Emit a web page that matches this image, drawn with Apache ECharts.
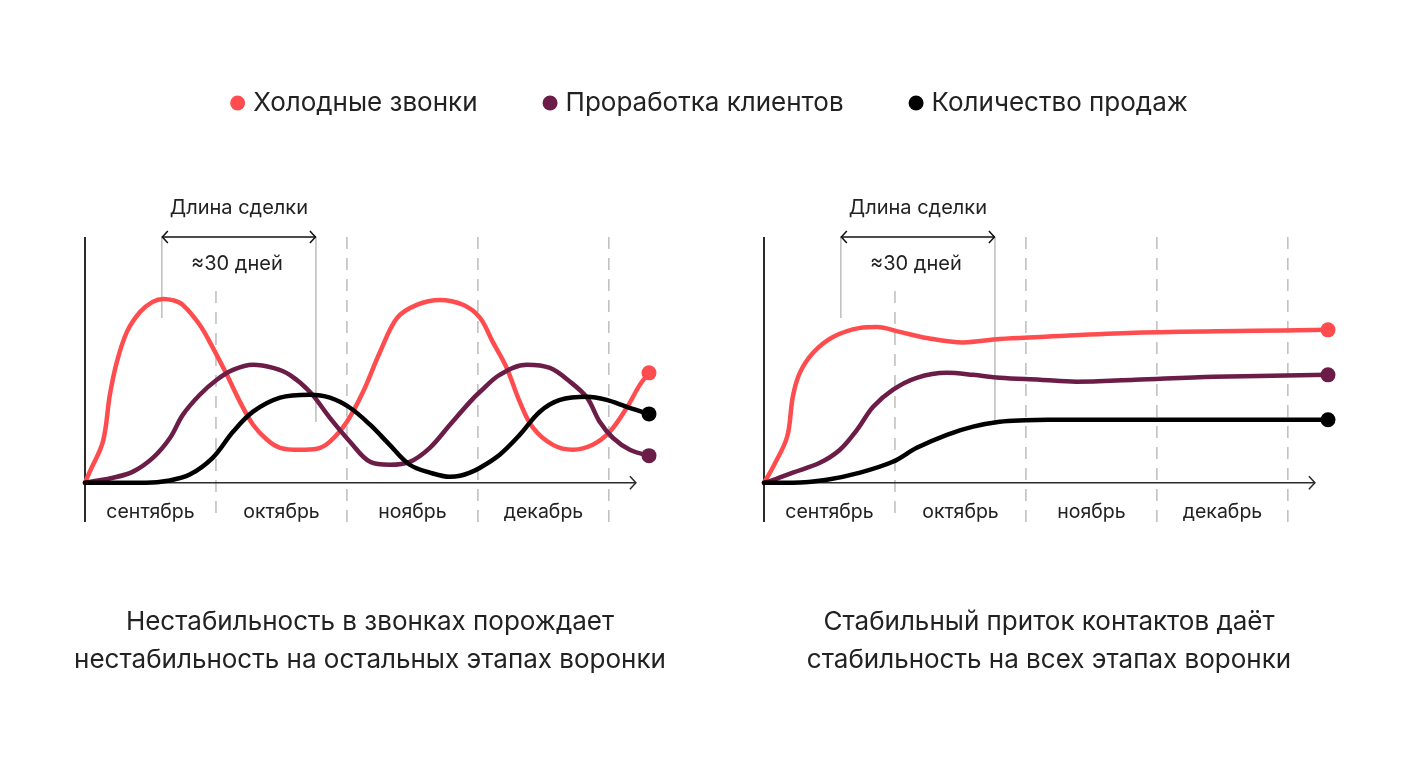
<!DOCTYPE html>
<html>
<head>
<meta charset="utf-8">
<script src="https://cdn.jsdelivr.net/npm/echarts@6/dist/echarts.min.js"></script>
<style>
  html, body { margin: 0; padding: 0; background: #ffffff; }
  #chart { width: 1418px; height: 760px; }
</style>
</head>
<body>
<div id="chart"></div>
<script>
// ---------- data ----------
const seriesNames = ['Холодные звонки', 'Проработка клиентов', 'Количество продаж'];
const months = ['сентябрь', 'октябрь', 'ноябрь', 'декабрь'];
const monthBounds = [30, 60, 90, 120];          // days
const dealStart = 17.6, dealEnd = 52.9;          // days
const dealTitle = 'Длина сделки';
const dealLength = '≈30 дней';
const captionLeft = 'Нестабильность в звонках порождает\nнестабильность на остальных этапах воронки';
const captionRight = 'Стабильный приток контактов даёт\nстабильность на всех этапах воронки';

// left panel: unstable
const coldCallsUnstable = [[0,0],[1.1,4.5],[4.1,16.7],[5.7,35.8],[7.3,49.2],[9.6,61.4],[12.6,69.5],[15.5,73.6],[17.9,74.8],[20.3,74.2],[22.4,72.4],[26.3,64.2],[29.3,54.9],[32.5,43.9],[35.5,32.9],[38.5,23.6],[41.7,17.5],[44.7,14.2],[49.2,13.4],[53.1,13.8],[56.1,16.7],[60.0,24.8],[63.7,37.0],[67.6,53.3],[71.5,67.1],[76.0,72.4],[81.3,74.4],[86.6,72.4],[90.5,67.1],[93.4,57.3],[96.6,46.7],[99.6,32.9],[102.6,22.4],[107.2,15.4],[111.8,13.4],[116.3,15.4],[120.2,20.7],[124.1,30.5],[127.1,39.8],[129.2,44.7]];
const clientWorkUnstable = [[0,0],[6.4,2.0],[11.0,4.5],[15.6,10.2],[19.5,18.3],[22.4,27.6],[26.3,35.8],[30.2,41.9],[33.9,45.9],[38.5,48.0],[43.1,46.7],[46.9,43.9],[51.5,37.0],[56.1,26.4],[60.7,16.7],[65.3,8.5],[69.8,7.3],[74.4,8.5],[79.0,14.2],[83.6,23.6],[88.2,32.9],[90.5,37.0],[95.0,43.9],[101.2,48.0],[106.5,46.7],[111.1,41.1],[115.0,34.6],[117.9,24.8],[120.9,18.3],[124.8,13.4],[129.2,11.0]];
const salesUnstable = [[0,0],[14,0],[19,0.8],[24.0,3.3],[29.3,10.2],[33.9,20.7],[38.5,28.9],[44.7,34.6],[51.5,35.8],[56.1,34.6],[60.7,30.5],[65.3,23.6],[69.8,15.4],[74.4,7.3],[79.0,4.1],[83.6,2.4],[85.9,2.8],[88.2,4.1],[90.5,6.1],[95.0,11.4],[99.6,19.5],[104.2,28.9],[108.8,33.7],[115.0,35.0],[119.5,33.7],[124.1,30.9],[129.2,28.0]];

// right panel: stable
const coldCallsStable = [[0,0],[2.1,6.5],[5.3,18.7],[6.6,35.0],[8.2,44.7],[11.2,52.8],[15.8,59.3],[22.0,63.0],[25.9,63.4],[31.1,61.4],[37.3,58.9],[45.6,57.1],[54.0,58.5],[63.2,59.3],[85.0,61.0],[112.2,61.8],[129.2,62.2]];
const clientWorkStable = [[0,0],[1.4,0.6],[6.6,4.1],[12.8,8.1],[17.4,13.4],[21.3,21.5],[25.0,30.9],[29.5,37.8],[35.0,42.7],[41.9,44.7],[47.9,43.9],[54.0,42.7],[63.2,41.9],[71.5,41.1],[85.0,41.9],[103.1,43.1],[129.2,43.9]];
const salesStable = [[0,0],[6.6,0],[14.4,1.2],[22.0,4.1],[29.5,8.5],[35.0,14.2],[41.9,19.5],[47.9,22.8],[54.0,24.8],[59.8,25.4],[65.0,25.6],[129.2,25.6]];

// ---------- styles ----------
const colors = ['#FF4D4F', '#6B1C47', '#000000'];
const FONT = 'Inter, "Noto Sans", sans-serif';
const TEXT = '#222222';
const X_MAX = 129.2, Y_MIN = -16, Y_MAX = 100;

const chart = echarts.init(document.getElementById('chart'), null, { renderer: 'canvas' });

function lineSeries(name, data, idx, color) {
  return {
    name: name, type: 'line', xAxisIndex: idx, yAxisIndex: idx, data: data,
    smooth: 0.35, clip: false,
    showSymbol: true, showAllSymbol: true, symbol: 'circle',
    symbolSize: function (v, p) { return p.dataIndex === data.length - 1 ? 15 : 0; },
    lineStyle: { width: 4.5, color: color, cap: 'round', join: 'round' },
    itemStyle: { color: color },
    emphasis: { disabled: true }, z: 3
  };
}

const monthAxis = (gi) => ({
  type: 'category', gridIndex: gi, data: months, boundaryGap: true,
  axisLine: { show: false }, axisTick: { show: false }, splitLine: { show: false },
  axisLabel: { margin: 19, fontSize: 19.5, color: TEXT, fontFamily: FONT }
});
const valueX = (gi) => ({ type: 'value', gridIndex: gi, min: 0, max: X_MAX, show: false });
const valueY = (gi) => ({ type: 'value', gridIndex: gi, min: Y_MIN, max: Y_MAX, show: false });

chart.setOption({
  animation: false,
  backgroundColor: '#ffffff',
  textStyle: { fontFamily: FONT },
  legend: {
    data: seriesNames, top: 85, left: 'center', itemGap: 65,
    icon: 'circle', itemWidth: 15, itemHeight: 15,
    textStyle: { fontSize: 26, color: TEXT, fontFamily: FONT, padding: [0, 0, 0, 3] },
    selectedMode: false
  },
  grid: [
    { left: 85, top: 237, width: 564, height: 285 },
    { left: 764, top: 237, width: 564, height: 285 },
    { left: 85, top: 237, width: 524, height: 246 },
    { left: 764, top: 237, width: 524, height: 246 }
  ],
  xAxis: [valueX(0), valueX(1), monthAxis(2), monthAxis(3)],
  yAxis: [valueY(0), valueY(1), { type: 'value', gridIndex: 2, show: false }, { type: 'value', gridIndex: 3, show: false }],
  series: [
    lineSeries(seriesNames[0], coldCallsUnstable, 0, colors[0]),
    lineSeries(seriesNames[1], clientWorkUnstable, 0, colors[1]),
    lineSeries(seriesNames[2], salesUnstable, 0, colors[2]),
    lineSeries(seriesNames[0], coldCallsStable, 1, colors[0]),
    lineSeries(seriesNames[1], clientWorkStable, 1, colors[1]),
    lineSeries(seriesNames[2], salesStable, 1, colors[2])
  ]
});

// ---------- decorations derived from the scales ----------
function panelGraphics(gi, caption) {
  const px = (x, y) => chart.convertToPixel({ gridIndex: gi }, [x, y]);
  const els = [];
  const top = px(0, Y_MAX), bottom = px(0, Y_MIN), origin = px(0, 0);
  const axisColor = '#2b2b2b', guide = '#BDBDBD';
  els.push({ type: 'line', z: 1, shape: { x1: top[0], y1: top[1], x2: bottom[0], y2: bottom[1] }, style: { stroke: axisColor, lineWidth: 2 } });
  monthBounds.forEach((d, i) => {
    const a = px(d, i === 0 ? 78 : Y_MAX), b = px(d, Y_MIN);
    els.push({ type: 'line', z: 0, shape: { x1: a[0], y1: a[1], x2: b[0], y2: b[1] }, style: { stroke: guide, lineWidth: 1.5, lineDash: [12, 9] } });
  });
  const xEnd = px(126.2, 0);
  els.push({ type: 'line', z: 1, shape: { x1: origin[0], y1: origin[1], x2: xEnd[0], y2: xEnd[1] }, style: { stroke: axisColor, lineWidth: 1.5 } });
  els.push({ type: 'polyline', z: 1, shape: { points: [[xEnd[0] - 6, xEnd[1] - 6.5], [xEnd[0], xEnd[1]], [xEnd[0] - 6, xEnd[1] + 6.5]] }, style: { stroke: axisColor, lineWidth: 1.5, fill: null } });
  const s1 = px(dealStart, Y_MAX), s2 = px(dealStart, 67);
  const e1 = px(dealEnd, Y_MAX), e2 = px(dealEnd, 24.7);
  els.push({ type: 'line', z: 0, shape: { x1: s1[0], y1: s1[1], x2: s2[0], y2: s2[1] }, style: { stroke: guide, lineWidth: 1.5 } });
  els.push({ type: 'line', z: 0, shape: { x1: e1[0], y1: e1[1], x2: e2[0], y2: e2[1] }, style: { stroke: guide, lineWidth: 1.5 } });
  els.push({ type: 'line', z: 1, shape: { x1: s1[0], y1: s1[1], x2: e1[0], y2: e1[1] }, style: { stroke: '#111', lineWidth: 1.5 } });
  els.push({ type: 'polyline', z: 1, shape: { points: [[s1[0] + 6, s1[1] - 6], [s1[0] + 0.5, s1[1]], [s1[0] + 6, s1[1] + 6]] }, style: { stroke: '#111', lineWidth: 1.5, fill: null } });
  els.push({ type: 'polyline', z: 1, shape: { points: [[e1[0] - 6, e1[1] - 6], [e1[0] - 0.5, e1[1]], [e1[0] - 6, e1[1] + 6]] }, style: { stroke: '#111', lineWidth: 1.5, fill: null } });
  const mid = (s1[0] + e1[0]) / 2;
  els.push({ type: 'text', z: 2, style: { text: dealTitle, x: mid, y: top[1] - 29, textAlign: 'center', textVerticalAlign: 'middle', fontSize: 20, fontFamily: FONT, fill: TEXT } });
  els.push({ type: 'text', z: 2, style: { text: dealLength, x: mid - 2, y: top[1] + 27, textAlign: 'center', textVerticalAlign: 'middle', fontSize: 20, fontFamily: FONT, fill: TEXT } });
  const capX = px(0, 0)[0] + 285;
  els.push({ type: 'text', z: 2, style: { text: caption, x: capX, y: 641, textAlign: 'center', textVerticalAlign: 'middle', fontSize: 26, lineHeight: 38, fontFamily: FONT, fill: TEXT } });
  return els;
}

chart.setOption({ graphic: panelGraphics(0, captionLeft).concat(panelGraphics(1, captionRight)) });
</script>
</body>
</html>
